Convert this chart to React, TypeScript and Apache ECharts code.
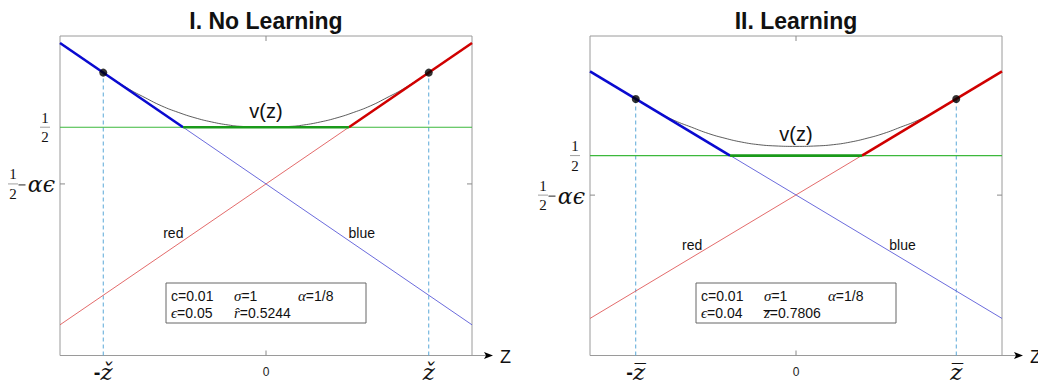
import React, { useEffect, useRef } from "react";
import * as echarts from "echarts";

// ---------------- Data ----------------
// z runs from -1 to 1 across each panel; values are in plot-box units (0 = bottom, 1 = top)
const zEnds = [-1, 1];

// Panel I: No Learning
const blueEndsI = [0.978, 0.096];
const redEndsI = [0.096, 0.978];
const halfI = 0.7145; // level "1/2"
const halfMinusAEI = 0.537; // level "1/2 - αϵ"
const greenEndsI = [-0.4025, 0.4025];
const zCheckI = [-0.79, 0.79];
const dotValsI = [0.8854, 0.8854];
const vZI = [-0.79, -0.668, -0.587, -0.506, -0.426, -0.345, -0.264, -0.183, -0.118, 0, 0.118, 0.183, 0.264, 0.345, 0.426, 0.506, 0.587, 0.668, 0.79];
const vValI = [0.8854, 0.835, 0.807, 0.781, 0.761, 0.744, 0.731, 0.7215, 0.717, 0.7148, 0.717, 0.7215, 0.731, 0.744, 0.761, 0.781, 0.807, 0.835, 0.8854];
const legendI = [
  ["{t|c=0.01}", "{g|σ}{t|=1}", "{g|α}{t|=1/8}"],
  ["{g|ϵ}{t|=0.05}", "{g|r̂}{t|=0.5244}"],
];

// Panel II: Learning
const blueEndsII = [0.889, 0.116];
const redEndsII = [0.116, 0.889];
const halfII = 0.6257;
const halfMinusAEII = 0.502;
const greenEndsII = [-0.32, 0.32];
const zCheckII = [-0.778, 0.778];
const dotValsII = [0.803, 0.803];
const vZII = [-0.778, -0.669, -0.588, -0.507, -0.426, -0.345, -0.264, -0.183, -0.102, 0, 0.102, 0.183, 0.264, 0.345, 0.426, 0.507, 0.588, 0.669, 0.778];
const vValII = [0.803, 0.761, 0.735, 0.7145, 0.695, 0.68, 0.668, 0.66, 0.656, 0.6545, 0.656, 0.66, 0.668, 0.68, 0.695, 0.7145, 0.735, 0.761, 0.803];
const legendII = [
  ["{t|c=0.01}", "{g|σ}{t|=1}", "{g|α}{t|=1/8}"],
  ["{g|ϵ}{t|=0.04}", "{g|z̅}{t|=0.7806}"],
];

const titles = ["I. No Learning", "II. Learning"];
const zMarkLabels = ["ž", "z̅"];

// ---------------- Styling / layout ----------------
const SANS = "'Liberation Sans', Arial, sans-serif";
const SERIF = "'Liberation Serif', 'DejaVu Serif', serif";
const MATH = "'DejaVu Serif', serif";
const C = {
  box: "#9a9a9a",
  tick: "#8a8a8a",
  blueThin: "#5a5ad8",
  blueThick: "#0a0ad0",
  redThin: "#e05a5a",
  redThick: "#d00000",
  greenThin: "#3cb83c",
  greenThick: "#1a9a1a",
  dash: "#5aa8d8",
  curve: "#333333",
};
const GRIDS = [
  { left: 60, top: 36, width: 412, height: 323 },
  { left: 590, top: 36, width: 412, height: 323 },
];

const panels = [
  {
    blue: blueEndsI, red: redEndsI, half: halfI, halfAE: halfMinusAEI, green: greenEndsI,
    zc: zCheckI, dots: dotValsI, vZ: vZI, vV: vValI, legend: legendI,
    vPos: [0, 0.766], redPos: [-0.45, 0.3845], bluePos: [0.465, 0.3845],
  },
  {
    blue: blueEndsII, red: redEndsII, half: halfII, halfAE: halfMinusAEII, green: greenEndsII,
    zc: zCheckII, dots: dotValsII, vZ: vZII, vV: vValII, legend: legendII,
    vPos: [0, 0.694], redPos: [-0.504, 0.3464], bluePos: [0.517, 0.3464],
  },
];

function buildSeries() {
  const series: any[] = [];
  panels.forEach((p, gi) => {
    const ax = { xAxisIndex: gi * 2, yAxisIndex: gi * 2 };
    const line = (data: number[][], color: string, width: number, extra: any = {}) => ({
      type: "line",
      ...ax,
      data,
      symbol: "none",
      silent: true,
      lineStyle: { color, width, ...(extra.lineStyle || {}) },
      z: extra.z ?? 2,
      smooth: extra.smooth ?? false,
    });
    // thin full lines
    series.push(line(zEnds.map((z, i) => [z, p.red[i]]), C.redThin, 0.9));
    series.push(line(zEnds.map((z, i) => [z, p.blue[i]]), C.blueThin, 0.9));
    series.push(line(zEnds.map((z) => [z, p.half]), C.greenThin, 1.1));
    // dashed verticals
    p.zc.forEach((z, i) => {
      series.push(line([[z, 0], [z, p.dots[i]]], C.dash, 1, { lineStyle: { type: [4, 3] }, z: 1 }));
    });
    // v(z) curve
    series.push(line(p.vZ.map((z, i) => [z, p.vV[i]]), C.curve, 0.8, { smooth: true, z: 3 }));
    // thick envelope
    series.push(line([[zEnds[0], p.blue[0]], [p.green[0], p.half]], C.blueThick, 2.6, { z: 4 }));
    series.push(line([[p.green[1], p.half], [zEnds[1], p.red[1]]], C.redThick, 2.6, { z: 4 }));
    series.push(line(p.green.map((z) => [z, p.half]), C.greenThick, 2.6, { z: 4 }));
    // dots
    series.push({
      type: "scatter",
      ...ax,
      silent: true,
      symbol: "circle",
      symbolSize: 8,
      itemStyle: { color: "#000" },
      data: p.zc.map((z, i) => [z, p.dots[i]]),
      z: 5,
    });
  });
  return series;
}

function buildAxes() {
  const xAxis: any[] = [];
  const yAxis: any[] = [];
  panels.forEach((p, gi) => {
    xAxis.push({
      gridIndex: gi, type: "value", min: -1, max: 1, position: "bottom",
      axisLine: { show: false }, splitLine: { show: false },
      axisTick: { show: false },
      axisLabel: {
        show: true,
        customValues: [p.zc[0], 0, p.zc[1]],
        margin: 5,
        color: "#222",
        fontSize: 12,
        fontFamily: SANS,
        lineHeight: 22,
        formatter: (v: number) => {
          if (Math.abs(v) < 1e-9) return "0";
          return v < 0 ? `{h|-}{z|${zMarkLabels[gi]}}` : `{z|${zMarkLabels[gi]}}`;
        },
        rich: {
          h: { fontSize: 20, fontFamily: SANS, fontWeight: "bold", color: "#111" },
          z: { fontSize: 23, fontFamily: MATH, fontStyle: "italic", color: "#111" },
        },
      },
    });
    xAxis.push({
      gridIndex: gi, type: "value", min: -1, max: 1, position: "top",
      axisLine: { show: false }, splitLine: { show: false },
      axisTick: { show: false }, axisLabel: { show: false },
    });
    yAxis.push({
      gridIndex: gi, type: "value", min: 0, max: 1, position: "left",
      axisLine: { show: false }, splitLine: { show: false },
      axisTick: { show: false }, axisLabel: { show: false },
    });
    yAxis.push({
      gridIndex: gi, type: "value", min: 0, max: 1, position: "right",
      axisLine: { show: false }, splitLine: { show: false },
      axisTick: { show: false }, axisLabel: { show: false },
    });
  });
  return { xAxis, yAxis };
}

function txt(x: number, y: number, text: string, style: any = {}) {
  return {
    type: "text",
    x,
    y,
    silent: true,
    z: 100,
    style: {
      text,
      fill: style.fill || "#111",
      font: style.font || `13px ${SANS}`,
      align: style.align || "center",
      verticalAlign: style.verticalAlign || "middle",
      textAlign: style.align || "center",
      textVerticalAlign: style.verticalAlign || "middle",
      rich: style.rich,
    },
  };
}

function seg(x1: number, y1: number, x2: number, y2: number, stroke: string, lineWidth = 1) {
  return { type: "line", silent: true, z: 100, shape: { x1, y1, x2, y2 }, style: { stroke, lineWidth } };
}

export default function App() {
  const ref = useRef<HTMLDivElement>(null);
  useEffect(() => {
    if (!ref.current) return;
    const chart = echarts.init(ref.current, null, { renderer: "svg" });
    const { xAxis, yAxis } = buildAxes();
    chart.setOption({
      animation: false,
      backgroundColor: "#fff",
      grid: GRIDS.map((g) => ({ ...g, show: true, borderColor: C.box, borderWidth: 1, backgroundColor: "transparent" })),
      xAxis,
      yAxis,
      series: buildSeries(),
    });

    const graphics: any[] = [];
    panels.forEach((p, gi) => {
      const px = (x: number, y: number) => chart.convertToPixel({ gridIndex: gi }, [x, y]) as number[];
      const [gl, gb] = px(-1, 0);
      const [gr, gt] = px(1, 1);
      const [gc] = px(0, 0);

      // title
      graphics.push(txt(gc, 21, titles[gi], { font: `bold 23px ${SANS}` }));

      // ticks at z = 0 (top and bottom) and at the 1/2 - αϵ level (left and right)
      const yAE = px(0, p.halfAE)[1];
      graphics.push(seg(gc, gt, gc, gt + 5, C.tick));
      graphics.push(seg(gc, gb, gc, gb - 5, C.tick));
      graphics.push(seg(gl, yAE, gl + 5, yAE, C.tick));
      graphics.push(seg(gr, yAE, gr - 5, yAE, C.tick));

      // v(z), red, blue labels
      const vp = px(p.vPos[0], p.vPos[1]);
      graphics.push(txt(vp[0], vp[1], "v(z)", { font: `20px ${SANS}` }));
      const rp = px(p.redPos[0], p.redPos[1]);
      graphics.push(txt(rp[0], rp[1], "red", { font: `14px ${SANS}` }));
      const bp = px(p.bluePos[0], p.bluePos[1]);
      graphics.push(txt(bp[0], bp[1], "blue", { font: `14px ${SANS}` }));

      // y labels: 1/2 and 1/2 - αϵ
      const frac = (cx: number, cy: number) => {
        graphics.push(txt(cx, cy - 9.5, "1", { font: `15px ${SERIF}` }));
        graphics.push(seg(cx - 5, cy, cx + 5, cy, "#777", 0.7));
        graphics.push(txt(cx, cy + 10, "2", { font: `15px ${SERIF}` }));
      };
      const yHalf = px(0, p.half)[1];
      frac(gl - 15, yHalf);
      frac(gl - 47, yAE);
      graphics.push(seg(gl - 41.5, yAE + 1, gl - 34.5, yAE + 1, "#222", 1));
      graphics.push(txt(gl - 5, yAE + 1, "αϵ", { font: `italic 22px ${MATH}`, align: "right" }));

      // arrow extension of the z-axis
      const tip = gr + 21;
      graphics.push(seg(gr, gb, tip - 6, gb, C.box, 1));
      graphics.push({
        type: "polygon", silent: true, z: 101,
        shape: { points: [[tip - 9, gb - 3.5], [tip, gb], [tip - 9, gb + 3.5], [tip - 7, gb]] },
        style: { fill: "#000" },
      });
      graphics.push(txt(tip + 7, gb + 1, "Z", { font: `18px ${SANS}`, align: "left" }));

      // parameter box
      const bx = gl + 106;
      const by = 283;
      graphics.push({
        type: "rect", silent: true, z: 99,
        shape: { x: bx, y: by, width: 200, height: 40 },
        style: { fill: "#fff", stroke: "#666", lineWidth: 1 },
      });
      const cols = [5, 68, 132];
      const rows = [12.5, 30];
      const rich = {
        t: { fontSize: 14, fontFamily: SANS, fill: "#111" },
        g: { fontSize: 15, fontFamily: SERIF, fontStyle: "italic", fill: "#111" },
      };
      p.legend.forEach((row, ri) => {
        row.forEach((s, ci) => {
          graphics.push(txt(bx + cols[ci], by + rows[ri], s, { align: "left", rich }));
        });
      });
    });
    chart.setOption({ graphic: graphics });
    return () => chart.dispose();
  }, []);
  return (
    <div
      ref={ref}
      style={{ position: "fixed", left: 0, top: 0, width: 1038, height: 383, background: "#fff" }}
    />
  );
}
